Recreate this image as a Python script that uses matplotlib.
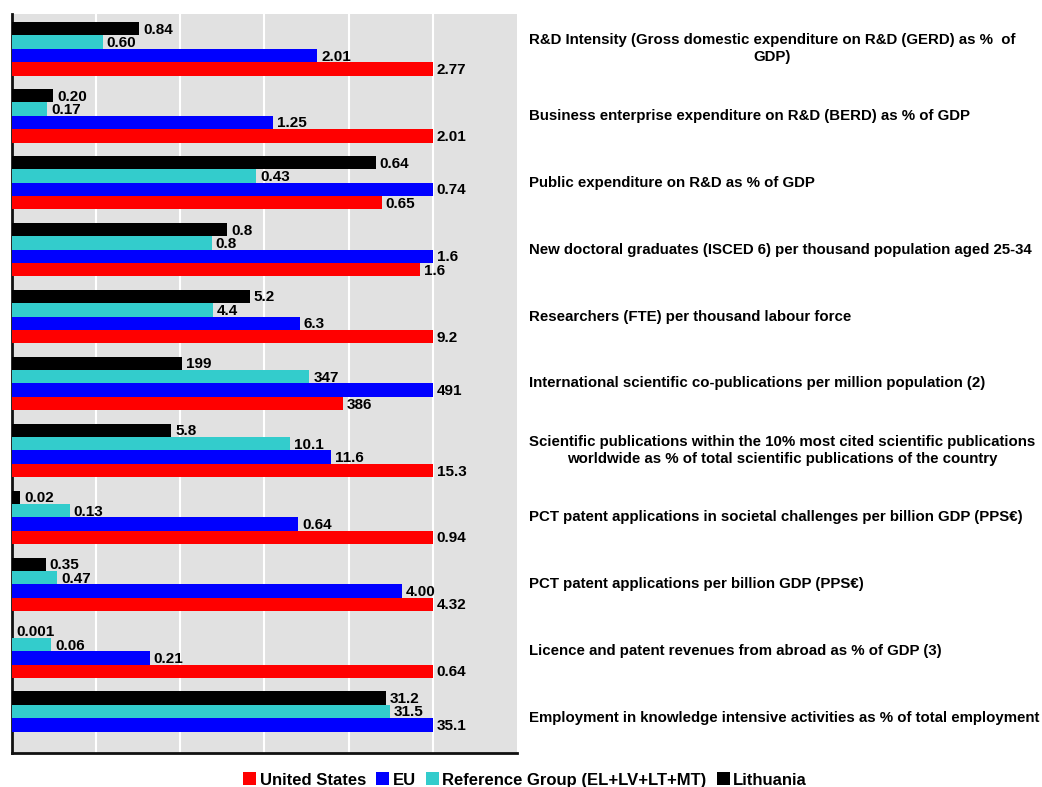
import numpy as np
import matplotlib
matplotlib.use('Agg')
import matplotlib.pyplot as plt
from matplotlib.transforms import blended_transform_factory
from matplotlib.patches import Patch

plt.rcParams['font.family'] = ['Liberation Sans', 'DejaVu Sans']
plt.rcParams['font.weight'] = 'bold'

indicators = [
    'R&D Intensity (Gross domestic expenditure on R&D (GERD) as %  of\nGDP)',
    'Business enterprise expenditure on R&D (BERD) as % of GDP',
    'Public expenditure on R&D as % of GDP',
    'New doctoral graduates (ISCED 6) per thousand population aged 25-34',
    'Researchers (FTE) per thousand labour force',
    'International scientific co-publications per million population (2)',
    'Scientific publications within the 10% most cited scientific publications\nworldwide as % of total scientific publications of the country',
    'PCT patent applications in societal challenges per billion GDP (PPS€)',
    'PCT patent applications per billion GDP (PPS€)',
    'Licence and patent revenues from abroad as % of GDP (3)',
    'Employment in knowledge intensive activities as % of total employment',
]

series_names = ['United States', 'EU', 'Reference Group (EL+LV+LT+MT)', 'Lithuania']
colors = ['#ff0000', '#0000ff', '#33cccc', '#000000']

# raw values (bar lengths), nan = no data
us = [2.77, 2.01, 0.65, 1.59, 9.2, 386, 15.3, 0.94, 4.32, 0.64, np.nan]
eu = [2.01, 1.25, 0.74, 1.64, 6.3, 491, 11.6, 0.64, 4.00, 0.21, 35.1]
ref = [0.60, 0.17, 0.43, 0.78, 4.4, 347, 10.1, 0.13, 0.47, 0.06, 31.5]
lt = [0.84, 0.20, 0.64, 0.84, 5.2, 199, 5.8, 0.02, 0.35, 0.001, 31.2]

# printed labels
us_lbl = ['2.77', '2.01', '0.65', '1.6', '9.2', '386', '15.3', '0.94', '4.32', '0.64', '']
eu_lbl = ['2.01', '1.25', '0.74', '1.6', '6.3', '491', '11.6', '0.64', '4.00', '0.21', '35.1']
ref_lbl = ['0.60', '0.17', '0.43', '0.8', '4.4', '347', '10.1', '0.13', '0.47', '0.06', '31.5']
lt_lbl = ['0.84', '0.20', '0.64', '0.8', '5.2', '199', '5.8', '0.02', '0.35', '0.001', '31.2']

values = np.array([us, eu, ref, lt], dtype=float)
labels = [us_lbl, eu_lbl, ref_lbl, lt_lbl]

# each indicator scaled to its own maximum
scaled = values / np.nanmax(values, axis=0)

fig = plt.figure(figsize=(10.42, 7.87), dpi=100)
ax = fig.add_axes([11.5 / 1042, 1 - 753 / 787, 505.5 / 1042, 739 / 787])
ax.set_facecolor('#e1e1e1')

y = np.arange(len(indicators))
h = 0.2
offsets = [1.5 * h, 0.5 * h, -0.5 * h, -1.5 * h]

for k in range(4):
    ax.barh(y + offsets[k], np.nan_to_num(scaled[k]), height=h,
            color=colors[k], zorder=3)
    for i in range(len(indicators)):
        if labels[k][i] == '':
            continue
        ax.annotate(labels[k][i], (np.nan_to_num(scaled[k][i]), y[i] + offsets[k]),
                    xytext=(4, -1), textcoords='offset pixels',
                    va='center', ha='left', fontsize=11, fontweight='bold',
                    zorder=4)

ax.set_xlim(0, 1.2)
ax.set_ylim(len(indicators) - 0.48, -0.52)
ax.set_xticks(np.arange(0.2, 1.01, 0.2))
ax.set_xticklabels([])
ax.set_yticks([])
ax.tick_params(length=0)
ax.grid(axis='x', color='white', linewidth=1.5, zorder=0)
for s in ['top', 'right']:
    ax.spines[s].set_visible(False)
for s in ['left', 'bottom']:
    ax.spines[s].set_linewidth(2)
    ax.spines[s].set_color('#111111')

trans = blended_transform_factory(ax.transAxes, ax.transData)
for i, name in enumerate(indicators):
    ax.text((529 - 11.5) / 505.5, y[i], name, transform=trans,
            ha='left', va='center', multialignment='center',
            fontsize=10.85, fontweight='bold', linespacing=1.25)

handles = [Patch(facecolor=c) for c in colors]
fig.legend(handles, series_names, loc='center', bbox_to_anchor=(525 / 1042, 1 - 780 / 787),
           ncol=4, frameon=False, prop={'size': 12, 'weight': 'bold'},
           handlelength=0.8, handleheight=0.8, handletextpad=0.2,
           columnspacing=0.6)

fig.savefig('out.png', dpi=100)
